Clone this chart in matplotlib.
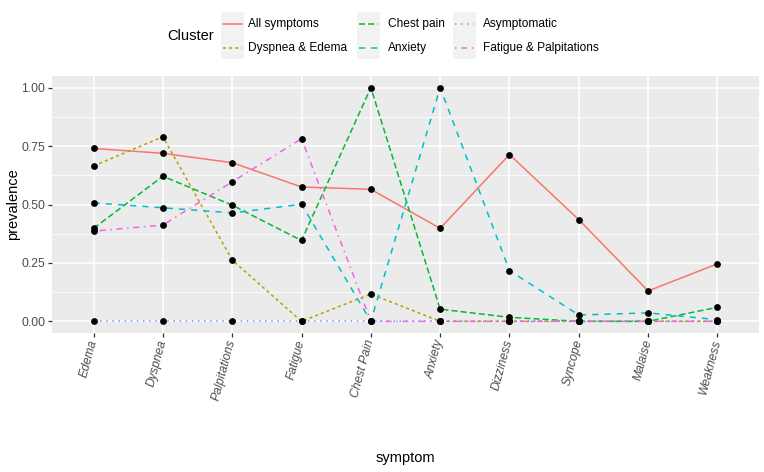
import numpy as np
import matplotlib.pyplot as plt
from matplotlib.lines import Line2D
from matplotlib.patches import Rectangle

plt.rcParams['font.family'] = ['Liberation Sans', 'DejaVu Sans']

symptoms = ['Edema', 'Dyspnea', 'Palpitations', 'Fatigue', 'Chest Pain',
            'Anxiety', 'Dizziness', 'Syncope', 'Malaise', 'Weakness']

clusters = ['All symptoms', 'Dyspnea & Edema', 'Chest pain', 'Anxiety',
            'Asymptomatic', 'Fatigue & Palpitations']

all_symptoms = [0.740, 0.719, 0.679, 0.575, 0.565, 0.398, 0.714, 0.435, 0.130, 0.246]
dyspnea_edema = [0.665, 0.790, 0.262, 0.0, 0.117, 0.0, 0.0, 0.0, 0.0, 0.0]
chest_pain = [0.398, 0.621, 0.497, 0.346, 1.0, 0.052, 0.017, 0.0, 0.0, 0.060]
anxiety = [0.507, 0.486, 0.464, 0.501, 0.0, 1.0, 0.217, 0.027, 0.036, 0.007]
asymptomatic = [0.0] * 10
fatigue_palp = [0.386, 0.412, 0.597, 0.782, 0.0, 0.0, 0.0, 0.0, 0.0, 0.0]

series = [all_symptoms, dyspnea_edema, chest_pain, anxiety, asymptomatic, fatigue_palp]
colors = ['#F8766D', '#B79F00', '#00BA38', '#00BFC4', '#619CFF', '#F564E3']
dashes = [None, (2, 2), (4, 2), (4, 4), (1, 3), (1, 3, 4, 3)]

W, H = 764, 472
fig = plt.figure(figsize=(W / 100, H / 100), dpi=100)

def fx(x):
    return x / W

def fy(y):
    return 1 - y / H

ax = fig.add_axes([fx(52), fy(333), fx(759) - fx(52), fy(76) - fy(333)])
ax.set_facecolor('#EBEBEB')
for s in ax.spines.values():
    s.set_visible(False)

x = np.arange(1, len(symptoms) + 1)
for vals, c, d, name in zip(series, colors, dashes, clusters):
    line, = ax.plot(x, vals, color=c, lw=1.1, label=name, zorder=3)
    if d is not None:
        line.set_dashes(d)
for vals in series:
    ax.scatter(x, vals, s=24, color='black', zorder=4, linewidths=0)

ax.set_xlim(0.4, len(symptoms) + 0.6)
ax.set_ylim(-0.05, 1.05)
ax.set_yticks([0, 0.25, 0.5, 0.75, 1.0])
ax.set_yticklabels(['0.00', '0.25', '0.50', '0.75', '1.00'])
ax.set_yticks([0.125, 0.375, 0.625, 0.875], minor=True)
ax.set_xticks(x)
ax.set_xticklabels(symptoms, rotation=75, ha='right', va='center',
                   rotation_mode='anchor', style='italic')
ax.grid(which='major', color='white', lw=1.1)
ax.grid(which='minor', axis='y', color='white', lw=0.55)
ax.set_axisbelow(True)
ax.tick_params(which='major', length=3, width=0.9, color='#333333',
               labelcolor='#4D4D4D', labelsize=8.7, pad=2)
ax.tick_params(which='minor', length=0)

fig.text(fx(405.5), fy(458), 'symptom', ha='center', va='center', fontsize=10.5)
fig.text(fx(13), fy(204.5), 'prevalence', ha='center', va='center',
         rotation=90, fontsize=10.5)

# legend drawn by hand
fig.text(fx(167), fy(36), 'Cluster', ha='left', va='center', fontsize=10.5)
key_left = [221, 357, 453]
text_left = [248, 388, 483]
row_mid = [24, 47.5]
for col in range(3):
    fig.add_artist(Rectangle((fx(key_left[col]), fy(59)), fx(23), fy(12) - fy(59),
                             transform=fig.transFigure, facecolor='#F2F2F2',
                             edgecolor='none'))
    for row in range(2):
        i = col * 2 + row
        ln = Line2D([fx(key_left[col] + 2), fx(key_left[col] + 21)],
                    [fy(row_mid[row])] * 2, transform=fig.transFigure,
                    color=colors[i], lw=1.1)
        if dashes[i] is not None:
            ln.set_dashes(dashes[i])
        fig.add_artist(ln)
        fig.text(fx(text_left[col]), fy(row_mid[row]), clusters[i],
                 ha='left', va='center', fontsize=8.6)

fig.savefig('out.png', dpi=100)
